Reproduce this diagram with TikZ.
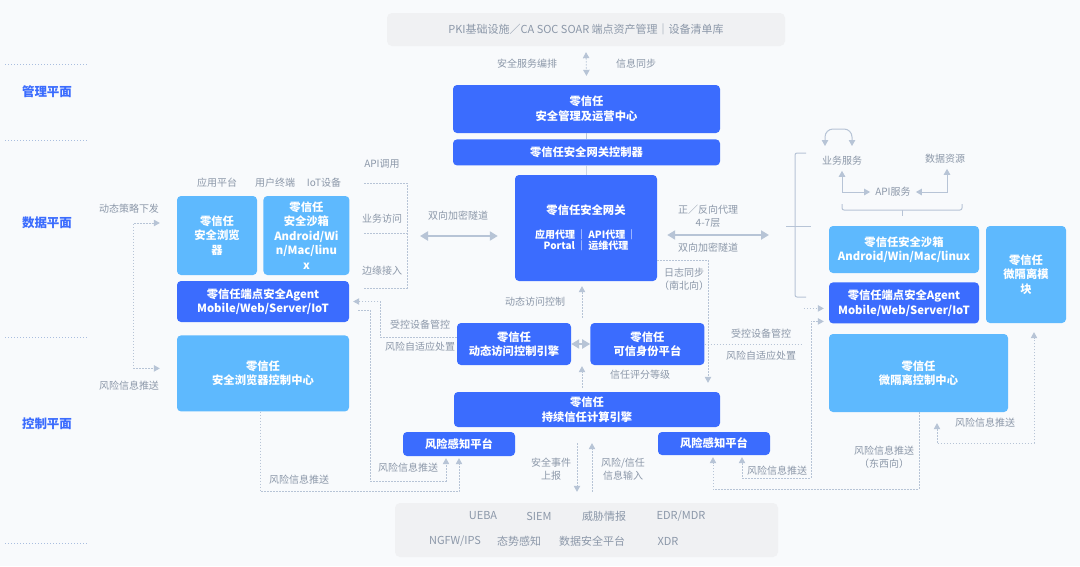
\documentclass[tikz,border=0pt]{standalone}
\usepackage{fontspec}
\setmainfont{Noto Sans CJK SC}
\usepackage{xcolor}
\usetikzlibrary{arrows.meta,positioning,calc}

\definecolor{zdark}{HTML}{3B6CFE}
\definecolor{zlight}{HTML}{5EB9FE}
\definecolor{zgrey}{HTML}{8C98A9}
\definecolor{zline}{HTML}{B7C4D6}
\definecolor{zpanel}{HTML}{F0F1F3}
\definecolor{zbg}{HTML}{F8FAFC}
\definecolor{zsep}{HTML}{A9BEDF}

\begin{document}
\begin{tikzpicture}[
        x=1pt, y=-1pt,
        darkbox/.style={rectangle, rounded corners=4pt, fill=zdark, text=white, align=center, inner sep=0pt, font=\bfseries\fontsize{11.3}{14.5}\selectfont},
        lightbox/.style={darkbox, fill=zlight},
        panel/.style={rectangle, rounded corners=5pt, fill=zpanel, text=zgrey, font=\fontsize{11}{14}\selectfont},
        feed/.style={text=zgrey, inner sep=0pt, font=\fontsize{11}{14}\selectfont},
        note/.style={text=zgrey, align=center, inner sep=0pt, font=\fontsize{10}{13}\selectfont},
        plane/.style={text=zdark, inner sep=0pt, font=\bfseries\fontsize{12.5}{15}\selectfont},
        sep/.style={draw=zsep, line width=1pt, dash pattern=on 1pt off 2pt},
        link/.style={draw=zline, line width=0.8pt, dash pattern=on 1.6pt off 1.4pt},
        arrow/.style={link, -{Triangle[width=6.5pt,length=6pt]}},
        twoway/.style={link, {Triangle[width=6.5pt,length=6pt]}-{Triangle[width=6.5pt,length=6pt]}},
        tunnel/.style={draw=zline, line width=2.6pt, {Triangle[width=9pt,length=8pt]}-{Triangle[width=9pt,length=8pt]}},
        frame/.style={draw=zline, line width=1pt},
        tip/.style={{Triangle[width=6.5pt,length=6pt]}-{Triangle[width=6.5pt,length=6pt]}}
    ]
        \fill[zbg] (0,0) rectangle (1080,566);
        \useasboundingbox (0,0) rectangle (1080,566);

        % planes
        \foreach \y in {64,140,337,543}
            \draw[sep] (5,\y) -- (88,\y);
        \node[plane] (planeM) at (47,92) {管理平面};
        \node[plane] (planeD) at (47,223) {数据平面};
        \node[plane] (planeC) at (47,424) {控制平面};

        % management plane
        \node[panel, minimum width=398pt, minimum height=33pt] (pki) at (586,29.5) {PKI基础设施／CA SOC SOAR 端点资产管理｜设备清单库};
        \node[darkbox, minimum width=267pt, minimum height=48pt] (ops) at (586.5,109) {零信任\\安全管理及运营中心};
        \node[darkbox, minimum width=267pt, minimum height=26pt, below=6pt of ops] (gwctl) {零信任安全网关控制器};
        \node[note] (orch) at (527,64) {安全服务编排};
        \node[note] (sync) at (636,64) {信息同步};

        % data plane
        \node[darkbox, minimum width=142pt, minimum height=106pt] (gw) at (586,228) {零信任安全网关\\[9pt]{\fontsize{10}{11}\selectfont 应用代理\,｜\,API代理\,｜}\\[-3pt]{\fontsize{10}{11}\selectfont Portal\,｜\,运维代理}};
        \node[lightbox, minimum width=80pt, minimum height=79pt] (browser) at (217,235.5) {零信任\\安全浏览\\器};
        \node[lightbox, minimum width=86pt, minimum height=79pt, right=6pt of browser] (sboxL) {零信任\\安全沙箱\\Android/Wi\\n/Mac/linu\\x};
        \node[darkbox, minimum width=172pt, minimum height=41pt] (agentL) at (263,301.5) {零信任端点安全Agent\\Mobile/Web/Server/IoT};
        \node[note] (appL) at (217,183) {应用平台};
        \node[note] (termL) at (275,183) {用户终端};
        \node[note] (iotL) at (324,183) {IoT设备};
        \node[note] (apicall) at (382,164) {API调用};
        \node[note] (bizacc) at (382,219) {业务访问};
        \node[note] (edge) at (382,271) {边缘接入};
        \node[note] (tunLlbl) at (458,216) {双向加密隧道};
        \node[note] (proxy) at (708,216) {正／反向代理\\4-7层};
        \node[note] (tunRlbl) at (708,248) {双向加密隧道};
        \node[note] (logsync) at (684,279) {日志同步\\（南北向）};

        \node[lightbox, minimum width=150pt, minimum height=47pt] (sboxR) at (904,249.5) {零信任安全沙箱\\Android/Win/Mac/linux};
        \node[darkbox, minimum width=150pt, minimum height=41pt, below=9pt of sboxR] (agentR) {零信任端点安全Agent\\Mobile/Web/Server/IoT};
        \node[lightbox, minimum width=80pt, minimum height=97pt] (micro) at (1026,274.5) {零信任\\微隔离模\\块};
        \node[note] (svc) at (842,161) {业务服务};
        \node[note] (res) at (945,159) {数据资源};
        \node[note] (api) at (893,192) {API服务};

        % control plane
        \node[lightbox, minimum width=172pt, minimum height=76pt, below=13pt of agentL] (bcc) {零信任\\安全浏览器控制中心};
        \node[lightbox, minimum width=179pt, minimum height=78pt] (mcc) at (918.5,373) {零信任\\微隔离控制中心};
        \node[darkbox, minimum width=114pt, minimum height=42pt] (dace) at (514,344) {零信任\\动态访问控制引擎};
        \node[darkbox, minimum width=114pt, minimum height=42pt, right=19pt of dace] (idp) {零信任\\可信身份平台};
        \node[darkbox, minimum width=266pt, minimum height=35pt] (ctce) at (587,409.5) {零信任\\持续信任计算引擎};
        \node[darkbox, minimum width=112pt, minimum height=24pt] (riskL) at (459,444) {风险感知平台};
        \node[darkbox, minimum width=112pt, minimum height=23pt] (riskR) at (714,443.5) {风险感知平台};
        \node[note] (policy) at (129,209) {动态策略下发};
        \node[note] (pushA) at (129,386) {风险信息推送};
        \node[note] (dynacc) at (535,302) {动态访问控制};
        \node[note] (mgdL) at (420,325) {受控设备管控};
        \node[note] (adaptL) at (420,347) {风险自适应处置};
        \node[note] (score) at (640,375) {信任评分等级};
        \node[note] (mgdR) at (761,334) {受控设备管控};
        \node[note] (adaptR) at (761,356) {风险自适应处置};
        \node[note] (pushB) at (408,468) {风险信息推送};
        \node[note] (pushC) at (299,480) {风险信息推送};
        \node[note] (pushD) at (777,471) {风险信息推送};
        \node[note] (pushE) at (884,457) {风险信息推送\\（东西向）};
        \node[note] (pushF) at (985,423) {风险信息推送};
        \node[note] (report) at (551,469) {安全事件\\上报};
        \node[note] (input) at (623,469) {风险/信任\\信息输入};

        % feeds
        \node[panel, minimum width=383pt, minimum height=54pt] (feeds) at (586.5,530) {};
        \node[feed] (ueba) at (483,516) {UEBA};
        \node[feed] (siem) at (539,516) {SIEM};
        \node[feed] (intel) at (604,516) {威胁情报};
        \node[feed] (edr) at (681,516) {EDR/MDR};
        \node[feed] (ngfw) at (455,541) {NGFW/IPS};
        \node[feed] (aware) at (519,541) {态势感知};
        \node[feed] (dsp) at (592,541) {数据安全平台};
        \node[feed] (xdr) at (668,541) {XDR};

        \coordinate (tunL) at (420,236);
        \coordinate (tunR) at (769,235);

        % connectors
        \draw[twoway] ([yshift=-6pt]pki.south) -- ([yshift=9pt]ops.north);
        \draw[draw=zline, line width=0.6pt] (ops) -- (gwctl);
        \draw[draw=zline, line width=0.6pt] (gwctl) -- (gw);
        \draw[link] (364,183) -- (407,183) -- (407,288) -- (364,288);
        \draw[link] (364,233) -- (407,233);
        \draw[tunnel] (tunL) -- ([xshift=-17pt,yshift=-8pt]gw.west);
        \draw[tunnel] ([xshift=10pt,yshift=-7pt]gw.east) -- (tunR);
        \draw[frame, rounded corners=2pt] (806,153) -- (795,153) -- (795,297) -- (806,297);
        \draw[frame] (786,226) -- (811,226);
        \draw[frame, tip, rounded corners=8pt] (825,146) -- (825,129) -- (852,129) -- (852,146);
        \draw[frame, tip, shorten <=5pt, shorten >=5pt] (svc.south) |- (api.west);
        \draw[frame, tip, shorten <=5pt, shorten >=5pt] ([xshift=2pt]res.south) |- (api.east);
        \draw[frame, rounded corners=2pt] (842,204) -- (842,210) -- (962,210) -- (962,204);
        \draw[frame] (902,210) -- (902,216);
        \draw[twoway] ([xshift=-17pt,yshift=12.5pt]browser.west) -- ++(-26,0) |- ([xshift=-17pt,yshift=5pt]bcc.west);
        \draw[arrow] ([yshift=7pt]dace.west) -| ([xshift=31pt]agentL.east) -- ([xshift=4pt]agentL.east);
        \draw[arrow, shorten >=2pt] ([xshift=9pt,yshift=-8.5pt]agentL.east) -| (370,481) -| ([xshift=-13pt]riskL.south);
        \draw[arrow, shorten >=2pt] ([xshift=-3pt]bcc.south) -- ++(0,80) -| (riskL.south);
        \draw[link] (idp.east) -- ++(98,0);
        \draw[arrow] ([xshift=-25pt,yshift=-5.5pt]agentR.west) -- ([xshift=-5pt,yshift=-5.5pt]agentR.west);
        \draw[twoway, shorten >=2pt] ([xshift=-5pt,yshift=-18.5pt]agentR.west) -| (811,478) -| ([xshift=28pt]riskR.south);
        \draw[arrow, shorten >=2pt] ([xshift=0.5pt]mcc.south) -- ++(0,77) -| ([xshift=-1pt]riskR.south);
        \draw[twoway, shorten <=11pt, shorten >=9pt] ([xshift=18.5pt]mcc.south) -- ++(0,31) -| ([xshift=8pt]micro.south);
        \draw[arrow, shorten >=9pt] ([yshift=-32pt]gw.east) -| ([xshift=121pt]ctce.north);
        \draw[arrow, shorten <=5pt, shorten >=5pt] ([xshift=-4pt]gw.south |- dace.north) -- ([xshift=-4pt]gw.south);
        \draw[arrow, shorten <=4pt, shorten >=1pt] ([xshift=-5pt]ctce.north) -- ([xshift=-5pt]ctce.north |- dace.south);
        \draw[tunnel] (dace) -- (idp);
        \draw[arrow, shorten <=16pt, shorten >=11pt] ([xshift=-10pt]ctce.south) -- ([xshift=-10pt]ctce.south |- feeds.north);
        \draw[arrow, shorten <=11pt, shorten >=16pt] ([xshift=5pt]ctce.south |- feeds.north) -- ([xshift=5pt]ctce.south);
    \end{tikzpicture}
\end{document}
